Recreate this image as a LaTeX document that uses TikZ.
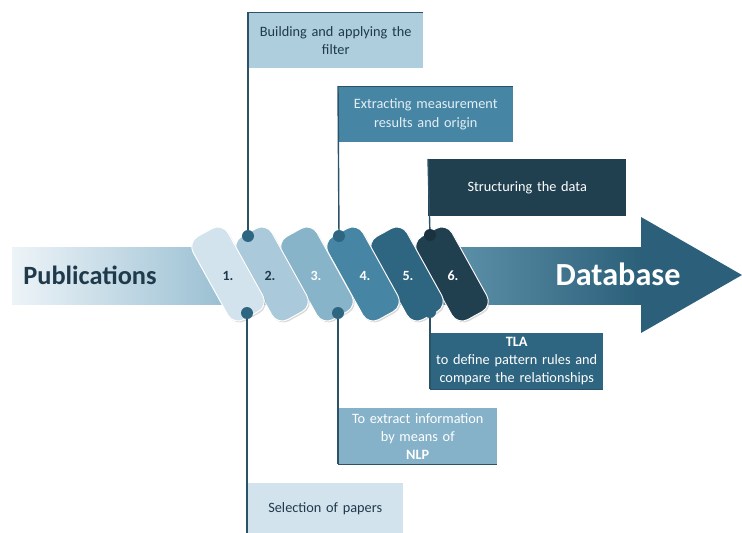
\documentclass[tikz,border=0pt]{standalone}
\usepackage{fontspec}
\setmainfont{Carlito}
\usetikzlibrary{shadows}

\definecolor{pale}{HTML}{D2E3ED}
\definecolor{light}{HTML}{AACADB}
\definecolor{mid}{HTML}{88B4CA}
\definecolor{sea}{HTML}{4686A4}
\definecolor{deep}{HTML}{2E6580}
\definecolor{night}{HTML}{203F4F}
\definecolor{ink}{HTML}{1F3A4A}
\definecolor{wire}{HTML}{2B5266}

\begin{document}
\begin{tikzpicture}[x=0.03cm, y=-0.03cm,
    pill/.style={rounded corners=10pt, minimum width=2.85cm, minimum height=1.2cm,
        rotate=-61, draw=white, line width=0.8pt,
        drop shadow={opacity=0.3, shadow xshift=1.2pt, shadow yshift=-1.2pt}},
    num/.style={font=\fontsize{12}{14}\selectfont\bfseries},
    dot/.style={circle, fill=deep, minimum size=0.36cm, inner sep=0pt},
    link/.style={draw=wire, line width=1.2pt},
    edge/.style={draw=wire, line width=0.6pt},
    box/.style={anchor=north west, inner sep=0pt, align=center,
        font=\fontsize{12.2}{15.5}\selectfont}]
    \useasboundingbox (0, 0) rectangle (742, 533);

    % Main arrow
    \shade[left color=pale!40!white, right color=mid] (12, 247) rectangle (270, 304);
    \shade[left color=sea!80!white, right color=deep!95!black] (400, 247) rectangle (642, 304);
    \fill[deep!95!black] (641, 217) -- (742, 275) -- (641, 333) -- cycle;
    \node[font=\fontsize{22.5}{26}\selectfont\bfseries, text=ink] (pub) at (90, 275) {Publications};
    \node[font=\fontsize{27.5}{31}\selectfont\bfseries, text=white] (db) at (618, 274) {Database};

    % The six steps
    \node[pill, fill=night] (p6) at (452, 274) {};
    \node[pill, fill=deep] (p5) at (407, 274) {};
    \node[pill, fill=sea] (p4) at (363, 274) {};
    \node[pill, fill=mid] (p3) at (317, 274) {};
    \node[pill, fill=light] (p2) at (272, 274) {};
    \node[pill, fill=pale] (p1) at (228, 274) {};
    \node[num, text=ink] (n1) at (228, 276) {1.};
    \node[num, text=ink] (n2) at (270, 276) {2.};
    \node[num, text=white!90!pale] (n3) at (316, 276) {3.};
    \node[num, text=white] (n4) at (365, 276) {4.};
    \node[num, text=white] (n5) at (408, 276) {5.};
    \node[num, text=white] (n6) at (453, 276) {6.};

    % Pins on the steps
    \node[dot] (t2) at (248, 236) {};
    \node[dot] (t4) at (339, 236) {};
    \node[dot, fill=night!80!black] (t6) at (430, 235) {};
    \node[dot] (b1) at (247, 313) {};
    \node[dot] (b3) at (338, 313) {};
    \node[dot] (b5) at (430, 312) {};

    % Boxes above the arrow
    \node[box, fill=light!95!white, text=ink, minimum width=5.25cm, minimum height=1.68cm,
        text width=5.1cm] (filter) at (248, 12) {Building and applying the\\filter};
    \node[box, fill=sea, text=pale!60!white, minimum width=5.25cm, minimum height=1.68cm,
        text width=5.1cm] (extract) at (338, 86) {Extracting measurement\\results and origin};
    \node[box, fill=night, text=white, minimum width=5.94cm, minimum height=1.71cm,
        text width=5.6cm] (struct) at (428, 159) {Structuring the data};

    % Boxes below the arrow
    \node[box, fill=deep, text=white, minimum width=5.19cm, minimum height=1.68cm,
        text width=5.1cm] (tla) at (430, 333) {\textbf{TLA}\\to define pattern rules and\\compare the relationships};
    \node[box, fill=mid!95!sea, text=white, minimum width=4.77cm, minimum height=1.68cm,
        text width=4.7cm] (nlp) at (338, 408) {To extract information\\by means of\\\textbf{NLP}};
    \node[box, fill=pale, text=ink, minimum width=4.68cm, minimum height=1.5cm,
        text width=4.4cm] (select) at (247, 483) {Selection of papers};

    % Leader lines
    \draw[edge] (filter.north east) -- (filter.north west);
    \draw[link] (filter.north west) -- (t2);
    \draw[edge] (extract.north east) -- (extract.north west);
    \draw[link] (extract.north west) -- (t4);
    \draw[link] (struct.north west) -- (t6);
    \draw[link] (b5) -- (tla.south west);
    \draw[edge] (tla.south west) -- (tla.south east);
    \draw[link] (b3) -- (nlp.south west);
    \draw[edge] (nlp.south west) -- (nlp.south east);
    \draw[link] (b1) -- (select.south west);
\end{tikzpicture}
\end{document}
